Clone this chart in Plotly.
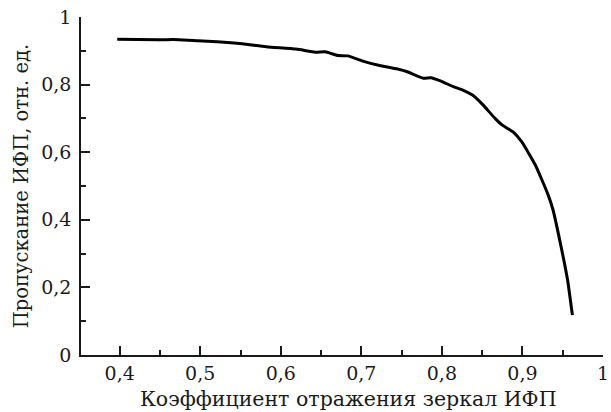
import plotly.graph_objects as go

# Mirror reflectance of the Fabry-Perot interferometer and its transmittance
reflectance = [0.397, 0.448, 0.473, 0.497, 0.521, 0.552, 0.582, 0.619, 0.643,
               0.655, 0.671, 0.683, 0.704, 0.720, 0.745, 0.757, 0.777, 0.786,
               0.798, 0.814, 0.826, 0.838, 0.851, 0.866, 0.875, 0.889, 0.899,
               0.916, 0.932, 0.938, 0.948, 0.956, 0.962]
transmittance = [0.934, 0.933, 0.933, 0.930, 0.927, 0.921, 0.912, 0.905, 0.896,
                 0.897, 0.886, 0.885, 0.868, 0.858, 0.846, 0.838, 0.819, 0.820,
                 0.811, 0.794, 0.784, 0.769, 0.740, 0.700, 0.680, 0.659, 0.631,
                 0.562, 0.473, 0.429, 0.320, 0.222, 0.118]

x_ticks = [0.4, 0.5, 0.6, 0.7, 0.8, 0.9, 1.0]
x_labels = ["0,4", "0,5", "0,6", "0,7", "0,8", "0,9", "1"]
y_ticks = [0, 0.2, 0.4, 0.6, 0.8, 1.0]
y_labels = ["0", "0,2", "0,4", "0,6", "0,8", "1"]

x_title = "Коэффициент отражения зеркал ИФП"
y_title = "Пропускание ИФП, отн. ед."

font_family = "DejaVu Serif"
text_color = "#1a1a1a"

fig = go.Figure(
    go.Scatter(
        x=reflectance,
        y=transmittance,
        mode="lines",
        line=dict(color="black", width=3, shape="spline", smoothing=0.5),
        hoverinfo="skip",
        cliponaxis=False,
    )
)

axis_common = dict(
    showgrid=False,
    zeroline=False,
    showline=True,
    linecolor="#1a1a1a",
    linewidth=1.5,
    ticks="inside",
    ticklen=9,
    tickwidth=1.5,
    tickcolor="#1a1a1a",
    tickmode="array",
    ticklabeloverflow="allow",
    tickfont=dict(family=font_family, size=19, color=text_color),
)

fig.update_xaxes(
    range=[0.352, 1.0],
    tickvals=x_ticks,
    ticktext=x_labels,
    minor=dict(ticks="inside", ticklen=5, tickwidth=1.5, tickcolor="#1a1a1a",
               tickvals=[0.45, 0.55, 0.65, 0.75, 0.85, 0.95]),
    **axis_common,
)
fig.update_yaxes(
    range=[0, 1],
    tickvals=y_ticks,
    ticktext=y_labels,
    minor=dict(ticks="inside", ticklen=5, tickwidth=1.5, tickcolor="#1a1a1a",
               tickvals=[0.1, 0.3, 0.5, 0.7, 0.9]),
    title=dict(text=y_title, font=dict(family=font_family, size=19.5, color=text_color), standoff=7),
    ticklabelstandoff=4,
    **axis_common,
)

# x-axis caption, placed slightly right of the plot centre
fig.add_annotation(
    text=x_title,
    xref="paper", yref="paper",
    x=0.513, y=0, yshift=-44,
    xanchor="center", yanchor="middle",
    showarrow=False,
    font=dict(family=font_family, size=20.5, color=text_color),
)

fig.update_layout(
    width=611,
    height=412,
    margin=dict(l=81, r=2, t=17, b=57),
    paper_bgcolor="white",
    plot_bgcolor="white",
    showlegend=False,
)

fig.write_html("out.html")
